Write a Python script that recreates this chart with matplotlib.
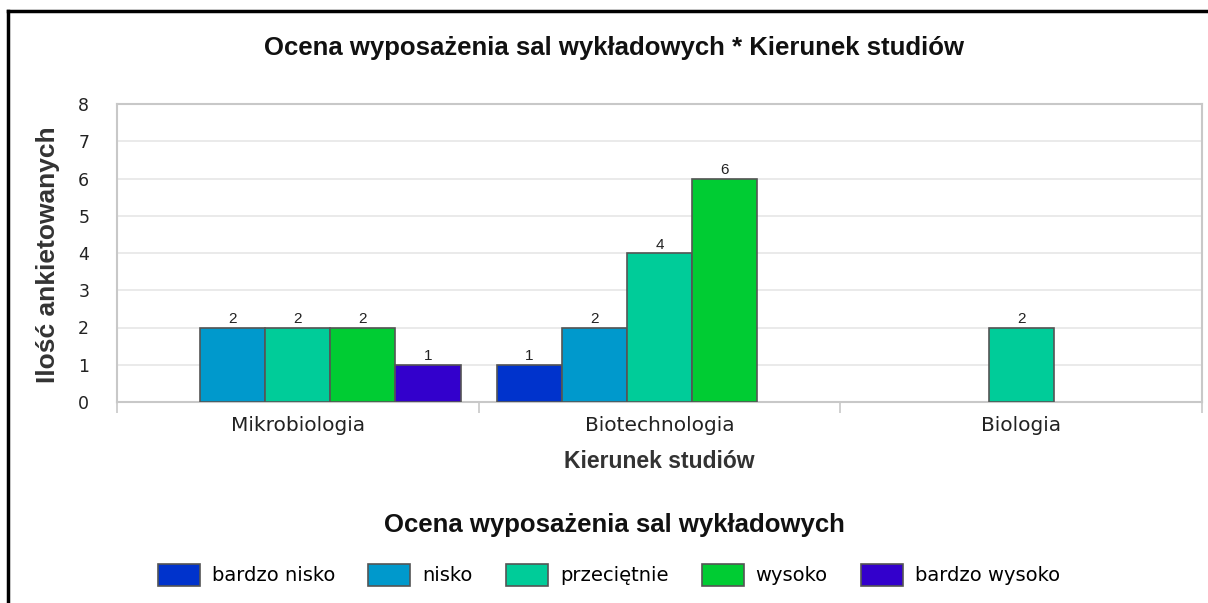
import numpy as np
import matplotlib
matplotlib.use("Agg")
import matplotlib.pyplot as plt
from matplotlib.lines import Line2D

# dane
categories = ["Mikrobiologia", "Biotechnologia", "Biologia"]
series_names = ["bardzo nisko", "nisko", "przeciętnie", "wysoko", "bardzo wysoko"]
bardzo_nisko = [0, 1, 0]
nisko = [2, 2, 0]
przecietnie = [2, 4, 2]
wysoko = [2, 6, 0]
bardzo_wysoko = [1, 0, 0]
y_ticks = [0, 1, 2, 3, 4, 5, 6, 7, 8]

series = [bardzo_nisko, nisko, przecietnie, wysoko, bardzo_wysoko]
colors = ["#0033cc", "#0099cc", "#00cc99", "#00cc33", "#3300cc"]

fig = plt.figure(figsize=(12.08, 6.03), dpi=100)
ax = fig.add_axes([117 / 1208, 1 - 402 / 603, (1202 - 117) / 1208, (402 - 104) / 603])

bw = 0.18
x = np.arange(len(categories))
handles = []
for i, (vals, name, c) in enumerate(zip(series, series_names, colors)):
    off = (i - 2) * bw
    idx = [j for j, v in enumerate(vals) if v > 0]
    h = ax.bar(x[idx] + off, [vals[j] for j in idx], bw, color=c,
               edgecolor="#555555", linewidth=1.2, zorder=3, label=name)
    handles.append(h)
    for j in idx:
        ax.text(x[j] + off, vals[j] + 0.04, str(vals[j]), ha="center", va="bottom",
                fontsize=11, family="Liberation Sans", color="#222222")

ax.set_xlim(-0.5, 2.5)
ax.set_ylim(0, 8)
ax.set_yticks(y_ticks)
ax.yaxis.grid(True, color="#e6e6e6", linewidth=1.2, zorder=0)
ax.tick_params(axis="y", length=0, pad=20, labelsize=12.5, labelcolor="#222222")
ax.set_xticks(x)
ax.set_xticklabels(categories, fontsize=14.5, color="#222222")
ax.set_xticks([-0.5, 0.5, 1.5, 2.5], minor=True)
ax.tick_params(axis="x", which="major", length=0, pad=10)
ax.tick_params(axis="x", which="minor", length=8, color="#c8c8c8", width=1.2)
for s in ax.spines.values():
    s.set_color("#c8c8c8")
    s.set_linewidth(1.5)

ax.set_ylabel("Ilość ankietowanych", fontsize=19, fontweight="bold",
              family="Liberation Sans", color="#333333", va="center")
ax.yaxis.set_label_coords(-(117 - 48) / 1085, (402 - 255) / 298)
ax.set_xlabel("Kierunek studiów", fontsize=16.5, fontweight="bold",
              family="Liberation Sans", color="#333333", va="center")
ax.xaxis.set_label_coords((659 - 117) / 1085, -(462 - 402) / 298)

fig.text(614 / 1208, 1 - 48 / 603, "Ocena wyposażenia sal wykładowych * Kierunek studiów",
         ha="center", va="center", fontsize=18.5, fontweight="bold",
         family="Liberation Sans", color="#111111")
fig.text(614 / 1208, 1 - 525 / 603, "Ocena wyposażenia sal wykładowych",
         ha="center", va="center", fontsize=18.5, fontweight="bold",
         family="Liberation Sans", color="#111111")

leg = fig.legend(handles=handles, loc="center", bbox_to_anchor=(609 / 1208, 1 - 575 / 603),
                 ncol=5, frameon=False, fontsize=14, handlelength=2.16,
                 handleheight=1.34, handletextpad=0.62, columnspacing=1.7)

# ramka
fig.add_artist(Line2D([8 / 1208, 8 / 1208], [0, 1 - 11 / 603], color="black", linewidth=2.5))
fig.add_artist(Line2D([8 / 1208, 1], [1 - 11 / 603, 1 - 11 / 603], color="black", linewidth=2.5))

fig.savefig("out.png", dpi=100)
